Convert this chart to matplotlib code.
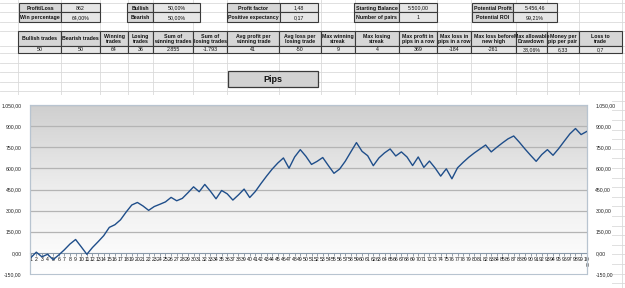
import matplotlib
matplotlib.use("Agg")
import matplotlib.pyplot as plt
from matplotlib.patches import Rectangle
from matplotlib.lines import Line2D
import numpy as np

plt.rcParams['font.family'] = ['Liberation Sans', 'DejaVu Sans']

# ---------------- data ----------------
summary_labels = ["Profit/Loss", "Win percentage", "Bullish", "Bearish",
                  "Profit factor", "Positive expectancy", "Starting Balance",
                  "Number of pairs", "Potential Profit", "Potential ROI"]
summary_values = ["862", "64,00%", "50,00%", "50,00%", "1,48", "0,17",
                  "5.500,00", "1", "5.456,46", "99,21%"]

stats_headers = ["Bullish trades", "Bearish trades", "Winning\ntrades", "Losing\ntrades",
                 "Sum of\nwinning trades", "Sum of\nlosing trades",
                 "Avg profit per\nwinning trade", "Avg loss per\nlosing trade",
                 "Max winning\nstreak", "Max losing\nstreak", "Max profit in\npips in a row",
                 "Max loss in\npips in a row", "Max loss before\nnew high",
                 "Max allowable\nDrawdown", "Money per\npip per pair", "Loss to\ntrade"]
stats_values = ["50", "50", "64", "36", "2.855", "-1.793", "41", "-50", "9", "4",
                "369", "-184", "-261", "38,06%", "6,33", "0,7"]

chart_title = "Pips"
trade_numbers = list(range(1, 101))
trade_labels = [str(n) for n in range(1, 100)] + ["10\n0"]
pips = [-35, 5, -28, -10, -48, -15, 22, 63, 95, 43,
        -10, 38, 79, 122, 181, 200, 235, 290, 340, 358,
        333, 302, 329, 345, 362, 394, 370, 387, 427, 469,
        434, 486, 438, 384, 443, 419, 375, 412, 453, 393,
        436, 492, 545, 595, 638, 674, 601, 681, 733, 686,
        628, 650, 677, 620, 565, 595, 650, 717, 783, 721,
        690, 619, 674, 710, 738, 688, 717, 681, 620, 681,
        607, 652, 603, 545, 597, 526, 604, 643, 679, 710,
        738, 766, 717, 750, 781, 810, 830, 786, 738, 693,
        650, 698, 733, 693, 740, 793, 845, 883, 840, 862]
y_ticks = [-150, 0, 150, 300, 450, 600, 750, 900, 1050]

# ---------------- layout helpers ----------------
W, H = 625, 288
fig = plt.figure(figsize=(W / 100, H / 100), dpi=100)
fig.patch.set_facecolor('white')


def fx(x):
    return x / W


def fy(y):
    return 1 - y / H


def box(x0, y0, x1, y1, fc, ec='#3a3a3a', lw=0.8, z=2):
    fig.patches.append(Rectangle((fx(x0), fy(y1)), fx(x1) - fx(x0), fy(y0) - fy(y1),
                                 transform=fig.transFigure, facecolor=fc,
                                 edgecolor=ec, linewidth=lw, zorder=z))


def txt(x, y, s, size=3.8, bold=False, ha='center'):
    fig.text(fx(x), fy(y), s, ha=ha, va='center', fontsize=size,
             fontweight='bold' if bold else 'normal', color='#111111',
             linespacing=1.0, zorder=5)


# spreadsheet gridlines
col_edges = [18, 61, 100, 128, 153, 193, 227, 279, 321, 355, 399, 437, 471, 516, 547, 579, 622]
row_edges = [3.3, 12.3, 22, 31, 45.7, 53] + list(np.arange(62.5, 290, 9.6))
for cx in col_edges:
    fig.lines.append(Line2D([fx(cx)] * 2, [0, 1], transform=fig.transFigure,
                            color='#dadada', lw=0.6, zorder=0))
for ry in row_edges:
    fig.lines.append(Line2D([0, 1], [fy(ry)] * 2, transform=fig.transFigure,
                            color='#dadada', lw=0.6, zorder=0))

# summary boxes (two rows per group)
groups = [(19, 61, 100), (127, 153, 200), (227, 280, 318), (354, 399, 437), (472, 513, 557)]
rows = [(3.3, 12.3), (12.3, 22)]
k = 0
for (a, b, c) in groups:
    for (r0, r1) in rows:
        box(a, r0, b, r1, '#d6d6d6')
        box(b, r0, c, r1, '#e6e6e6')
        txt((a + b) / 2, (r0 + r1) / 2 + 0.3, summary_labels[k], bold=True)
        txt((b + c) / 2, (r0 + r1) / 2 + 0.3, summary_values[k])
        k += 1

# stats table
for i in range(len(stats_headers)):
    a, b = col_edges[i], col_edges[i + 1]
    box(a, 31, b, 45.7, '#d6d6d6')
    box(a, 45.7, b, 53, '#e6e6e6')
    txt((a + b) / 2, 38.6, stats_headers[i], bold=True)
    txt((a + b) / 2, 49.5, stats_values[i])

# Pips title box
box(228, 71, 318, 87, '#d2d2d2', lw=0.9)
txt(273, 79, chart_title, size=6.5, bold=True)

# chart object background
box(0, 95, 612, 289, 'white', ec='white', lw=0, z=1)

# ---------------- chart ----------------
ax = fig.add_axes([fx(30), fy(274), fx(587) - fx(30), fy(105) - fy(274)])
ax.set_zorder(3)
ax.set_xlim(0.88, 100.05)
ax.set_ylim(-150, 1050)

grad = np.linspace(0, 1, 256).reshape(-1, 1)
cmap = matplotlib.colors.LinearSegmentedColormap.from_list('g', ['#ffffff', '#eeeeee', '#cfcfcf'])
ax.imshow(grad, cmap=cmap, origin='lower', aspect='auto',
          extent=[0.88, 100.05, -150, 1050], zorder=0)

for t in y_ticks[1:]:
    if t != 0:
        ax.axhline(t, color='#b4b4b4', lw=0.9, zorder=1)

ax.plot(trade_numbers, pips, color='#1f4e8a', lw=1.0, zorder=4)


def fmt(v):
    s = f"{abs(v):,.2f}".replace(',', 'X').replace('.', ',').replace('X', '.')
    return ('-' if v < 0 else '') + s


ax.set_yticks(y_ticks)
ax.set_yticklabels([fmt(v) for v in y_ticks])
ax.tick_params(axis='y', which='both', left=False, right=False, labelleft=True,
               labelright=True, labelsize=3.7, pad=2.5, colors='#222222')

ax.set_xticks(trade_numbers)
ax.set_xticklabels(trade_labels, linespacing=0.9, va='top')
ax.tick_params(axis='x', length=2, width=0.5, pad=1, labelsize=3.7,
               colors='#6a7a8a', labelcolor='#111111')

for s in ['left', 'right', 'top']:
    ax.spines[s].set_color('#a9bacb')
    ax.spines[s].set_linewidth(0.8)
ax.spines['bottom'].set_position(('data', 0))
ax.spines['bottom'].set_color('#8898a8')
ax.spines['bottom'].set_linewidth(0.8)
ax.add_patch(Rectangle((0, 0), 1, 1, transform=ax.transAxes, fill=False,
                       edgecolor='#b8c4d0', lw=0.8, zorder=5, clip_on=False))

fig.savefig('out.png', dpi=100)
